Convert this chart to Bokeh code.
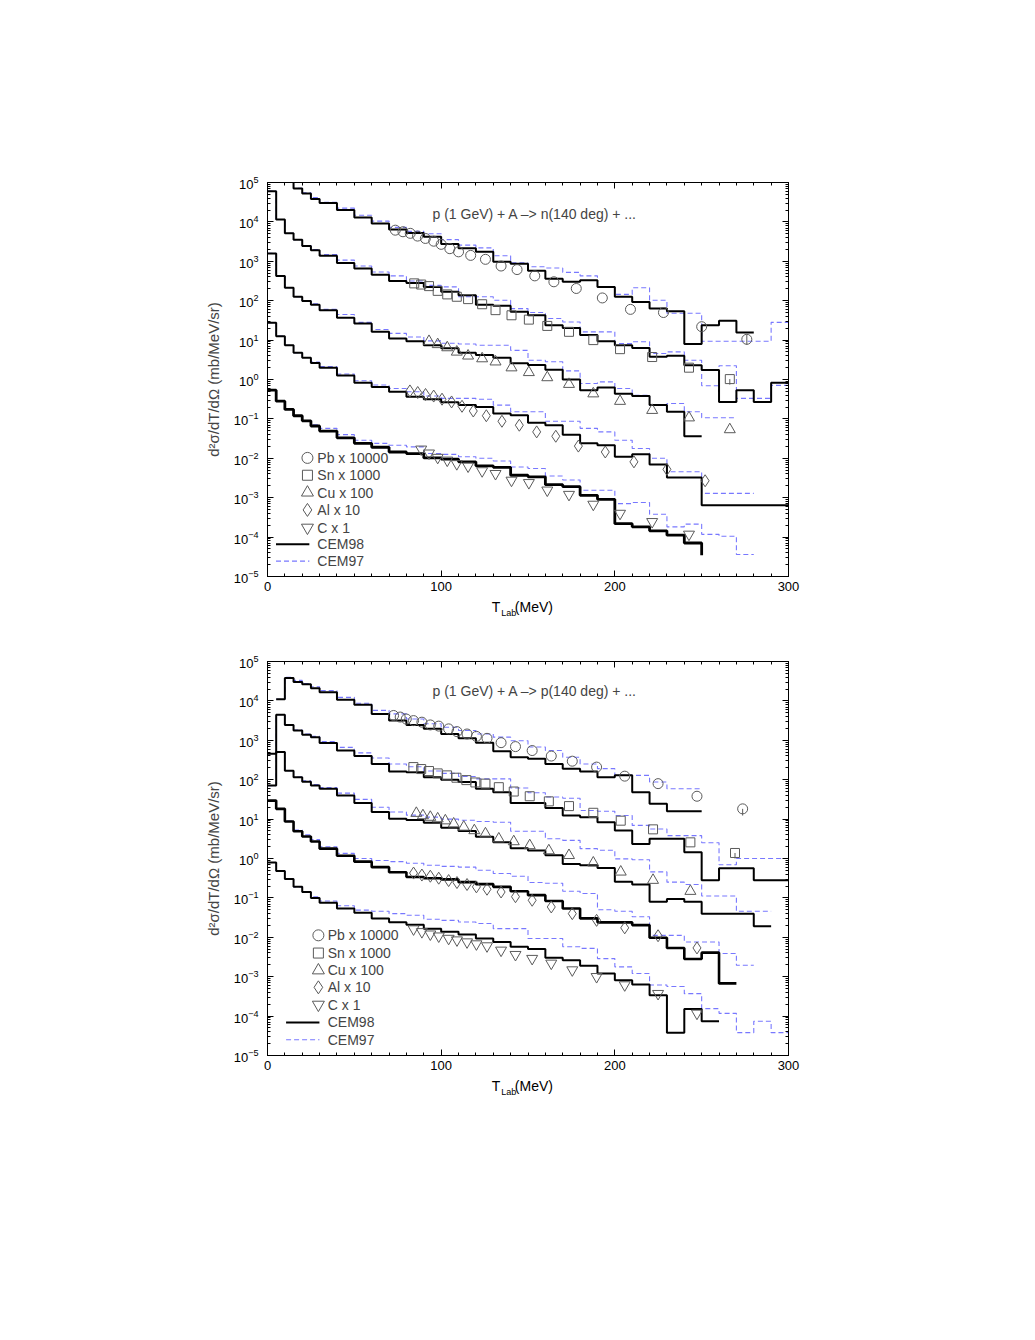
from bokeh.plotting import figure
from bokeh.models import (ColumnDataSource, FixedTicker, LinearAxis, LogAxis,
                          Range1d, Label, CustomJSTickFormatter)
from bokeh.layouts import column
from bokeh.embed import file_html
from bokeh.resources import INLINE

FONT = "Liberation Sans"

# ---------------- data ----------------
# histogram bin edges (MeV)
EDGES = [0, 5, 10, 15, 20, 25, 30] + list(range(40, 301, 10))
X_TICKS = [0, 100, 200, 300]
Y_TICKS = [1e-5, 1e-4, 1e-3, 1e-2, 1e-1, 1e0, 1e1, 1e2, 1e3, 1e4, 1e5]

# ---- top panel: p + A -> n(140 deg); values are log10 of d2sigma/dT/dOmega (scaled)
top_pb_cem98 = [5.5, 5.4, 5.2, 4.85, 4.72, 4.58, 4.48, 4.30, 4.11, 3.96, 3.81, 3.72, 3.62, 3.44, 3.33, 3.24,
                2.99, 2.94, 2.76, 2.56, 2.48, 2.52, 2.35, 2.10, 1.97, 1.80, 1.73, 0.90, 1.38, 1.49, 1.19]
top_pb_cem97 = [5.5, 5.4, 5.2, 4.85, 4.74, 4.62, 4.50, 4.35, 4.17, 4.02, 3.86, 3.76, 3.70, 3.55, 3.41, 3.34,
                3.14, 2.96, 2.86, 2.83, 2.72, 2.63, 2.35, 2.16, 2.33, 2.01, 1.68, 1.68, 0.97, 0.97, 0.97, 0.97, 1.45]
top_sn_cem98 = [4.78, 4.06, 3.71, 3.55, 3.39, 3.28, 3.14, 2.96, 2.82, 2.66, 2.50, 2.45, 2.35, 2.23, 2.14, 1.90,
                1.87, 1.72, 1.63, 1.38, 1.31, 1.13, 0.97, 0.87, 0.80, 0.58, 0.60, 0.36, 0.24, -0.57, -0.27, -0.57, -0.08]
top_sn_cem97 = [4.78, 4.06, 3.71, 3.55, 3.40, 3.30, 3.17, 3.03, 2.88, 2.73, 2.63, 2.50, 2.39, 2.35, 2.10, 2.10,
                2.01, 1.80, 1.70, 1.55, 1.46, 1.21, 1.21, 0.91, 0.96, 0.66, 0.70, 0.49, -0.16, 0.35, -0.48, -0.48, -0.15]
top_cu_cem98 = [3.20, 2.63, 2.33, 2.10, 1.99, 1.90, 1.76, 1.57, 1.42, 1.21, 1.04, 0.97, 0.87, 0.79, 0.68, 0.62,
                0.55, 0.41, 0.37, 0.25, 0.00, -0.27, -0.20, -0.36, -0.42, -0.65, -0.82, -1.44]
top_cu_cem97 = [3.20, 2.63, 2.33, 2.10, 2.00, 1.92, 1.78, 1.65, 1.45, 1.27, 1.17, 1.08, 0.98, 0.92, 0.90, 0.87,
                0.87, 0.74, 0.49, 0.45, 0.22, -0.10, -0.06, -0.23, -0.40, -0.65, -0.61, -0.82, -0.97, -0.97]
top_al_cem98 = [1.44, 1.10, 0.87, 0.68, 0.55, 0.42, 0.30, 0.10, -0.08, -0.19, -0.31, -0.44, -0.50, -0.58, -0.65, -0.70,
                -0.86, -0.91, -1.10, -1.16, -1.40, -1.62, -1.67, -1.96, -1.90, -2.16, -2.49, -2.49, -3.19, -3.19, -3.19, -3.19, -3.19]
top_al_cem97 = [1.44, 1.10, 0.87, 0.68, 0.56, 0.44, 0.33, 0.14, -0.03, -0.14, -0.23, -0.31, -0.42, -0.48, -0.48, -0.50,
                -0.65, -0.82, -0.82, -1.06, -1.06, -1.24, -1.33, -1.54, -1.75, -2.00, -2.34, -2.34, -2.89, -2.89, -2.89]
top_c_cem98 = [-0.27, -0.55, -0.76, -0.92, -1.05, -1.18, -1.31, -1.48, -1.62, -1.72, -1.84, -1.88, -1.99, -2.02, -2.09, -2.19,
               -2.23, -2.43, -2.47, -2.67, -2.72, -2.94, -3.04, -3.66, -3.74, -3.84, -3.95, -4.15]
top_c_cem98_tail = -4.46
top_c_cem97 = [-0.27, -0.55, -0.76, -0.92, -1.04, -1.15, -1.24, -1.40, -1.54, -1.62, -1.67, -1.71, -1.88, -1.90, -1.96, -2.00,
               -2.07, -2.22, -2.26, -2.45, -2.55, -2.81, -2.81, -3.15, -3.12, -3.42, -3.74, -3.67, -3.93, -3.98, -4.44]

top_pb_x = [73.6, 78, 82.2, 86.4, 90.9, 95.7, 100, 105, 110, 117, 125.5, 134.5, 143.7, 153.9, 164.9, 177.8, 192.8, 209, 228, 250, 276]
top_pb_y = [3.79, 3.75, 3.71, 3.64, 3.58, 3.51, 3.43, 3.32, 3.24, 3.15, 3.05, 2.88, 2.79, 2.63, 2.48, 2.31, 2.07, 1.78, 1.70, 1.34, 1.02]
top_sn_x = [84.5, 88.5, 93, 98, 103.5, 109, 115.5, 123.6, 131.3, 140.5, 150.5, 161.1, 173.6, 187.6, 203, 221.5, 242.7, 266.2]
top_sn_y = [2.44, 2.41, 2.37, 2.25, 2.16, 2.10, 2.04, 1.91, 1.76, 1.63, 1.52, 1.36, 1.21, 1.00, 0.77, 0.57, 0.30, 0.01]
top_cu_x = [93, 98, 103.5, 109, 115.5, 123.6, 131.3, 140.5, 150.5, 161.1, 173.6, 187.6, 203, 221.5, 242.7, 266.2]
top_cu_y = [0.97, 0.89, 0.81, 0.70, 0.60, 0.53, 0.45, 0.30, 0.18, 0.05, -0.12, -0.36, -0.55, -0.78, -0.97, -1.27]
top_al_x = [82, 86.5, 91, 95.7, 100.5, 106, 112, 118.5, 126, 135, 145, 155, 166, 179, 194.5, 211, 230, 252]
top_al_y = [-0.29, -0.33, -0.38, -0.42, -0.50, -0.57, -0.68, -0.80, -0.92, -1.06, -1.16, -1.33, -1.44, -1.69, -1.84, -2.09, -2.28, -2.57]
top_c_x = [88.5, 93, 98, 103.5, 109, 115.5, 123.6, 131.3, 140.5, 150.5, 161.1, 173.6, 187.6, 203, 221.5, 242.7]
top_c_y = [-1.77, -1.87, -1.98, -2.05, -2.14, -2.20, -2.32, -2.39, -2.56, -2.62, -2.81, -2.92, -3.17, -3.40, -3.61, -3.93]
top_err_x = [276, 266.2]
top_err_lo = [0.88, -0.13]
top_err_hi = [1.14, 0.01]

# ---- bottom panel: p + A -> p(140 deg)
bot_pb_cem98 = [None, 4.04, 4.58, 4.48, 4.42, 4.32, 4.22, 4.03, 3.90, 3.67, 3.50, 3.39, 3.29, 3.16, 3.05, 2.94,
                2.72, 2.57, 2.53, 2.40, 2.28, 2.21, 2.06, 2.11, 1.68, 1.39, 1.20, 1.20]
bot_pb_cem97 = [None, 4.04, 4.60, 4.52, 4.44, 4.36, 4.26, 4.09, 3.94, 3.76, 3.67, 3.54, 3.42, 3.33, 3.25, 3.16,
                3.08, 2.99, 2.83, 2.74, 2.57, 2.40, 2.28, 2.11, 2.11, 1.94, 1.77, 1.77]
bot_sn_cem98 = [2.66, 3.65, 3.39, 3.25, 3.14, 3.08, 2.93, 2.74, 2.60, 2.40, 2.21, 2.19, 2.06, 2.00, 1.94, 1.77,
                1.68, 1.41, 1.41, 1.28, 1.09, 1.05, 0.92, 0.71, 0.37, 0.50, 0.50, 0.16, -0.55, -0.25, -0.25, -0.55, -0.55]
bot_sn_cem97 = [2.66, 3.65, 3.39, 3.26, 3.16, 3.10, 2.97, 2.82, 2.68, 2.55, 2.40, 2.33, 2.22, 2.16, 2.08, 2.02,
                2.02, 1.79, 1.67, 1.56, 1.53, 1.22, 1.20, 1.09, 0.84, 0.75, 0.58, 0.58, 0.40, -0.16, 0.00, 0.00, 0.00]
bot_cu_cem98 = [1.85, 2.70, 2.23, 2.06, 1.95, 1.85, 1.77, 1.60, 1.41, 1.18, 1.01, 0.98, 0.91, 0.78, 0.70, 0.55,
                0.41, 0.26, 0.20, 0.08, -0.14, -0.17, -0.24, -0.59, -0.66, -1.10, -1.03, -1.10, -1.40, -1.40, -1.40, -1.72]
bot_cu_cem97 = [1.85, 2.70, 2.23, 2.07, 1.97, 1.88, 1.80, 1.66, 1.50, 1.30, 1.18, 1.10, 1.05, 1.00, 0.97, 0.94,
                0.92, 0.69, 0.69, 0.50, 0.46, 0.25, 0.21, -0.01, -0.03, -0.34, -0.60, -0.66, -0.95, -0.95, -1.34, -1.34]
bot_al_cem98 = [1.47, 1.26, 0.94, 0.69, 0.56, 0.43, 0.25, 0.07, -0.08, -0.22, -0.35, -0.47, -0.50, -0.53, -0.60, -0.65,
                -0.72, -0.83, -0.93, -1.08, -1.27, -1.52, -1.62, -1.62, -1.69, -2.01, -2.27, -2.55, -2.39, -3.17]
bot_al_cem97 = [1.47, 1.26, 0.95, 0.72, 0.60, 0.48, 0.30, 0.13, 0.00, -0.05, -0.08, -0.12, -0.17, -0.20, -0.22, -0.30,
                -0.38, -0.45, -0.61, -0.63, -0.83, -0.89, -1.30, -1.34, -1.48, -1.95, -1.95, -2.12, -2.12, -2.41, -2.71]
bot_c_cem98 = [-0.10, -0.32, -0.52, -0.72, -0.85, -1.00, -1.12, -1.27, -1.38, -1.52, -1.62, -1.68, -1.78, -1.86, -1.93, -2.03,
               -2.12, -2.24, -2.30, -2.52, -2.58, -2.72, -2.92, -3.09, -3.20, -3.47, -4.42, -3.82, -4.13]
bot_c_cem97 = [-0.10, -0.32, -0.52, -0.72, -0.85, -0.97, -1.08, -1.20, -1.31, -1.34, -1.40, -1.44, -1.54, -1.57, -1.61, -1.65,
               -1.78, -1.78, -2.03, -2.03, -2.24, -2.28, -2.54, -2.75, -2.92, -3.21, -3.25, -3.43, -3.81, -3.93, -4.42, -4.13, -4.42]

bot_pb_x = [72.6, 76.4, 79.9, 84.1, 88.9, 93.75, 98.6, 104.3, 109.1, 114.9, 120.3, 126.4, 134.5, 142.8, 152.4, 163.4,
            175.5, 189.5, 205.7, 224.9, 247.3, 273.6]
bot_pb_y = [3.63, 3.59, 3.54, 3.50, 3.46, 3.39, 3.36, 3.29, 3.22, 3.16, 3.10, 3.05, 2.94, 2.84, 2.74, 2.60,
            2.47, 2.32, 2.09, 1.90, 1.58, 1.26]
bot_sn_x = [84, 88.5, 93, 98, 103.4, 108.8, 114.5, 119.7, 125.5, 133.2, 141.8, 151, 162, 173.6, 187.6, 203.4, 222, 243.5, 269.2]
bot_sn_y = [2.32, 2.27, 2.22, 2.16, 2.11, 2.05, 1.99, 1.93, 1.90, 1.81, 1.70, 1.58, 1.45, 1.33, 1.16, 0.96, 0.74, 0.41, 0.14]
bot_cu_x = [85.7, 89.5, 93.75, 98, 102.4, 107.2, 113, 119.1, 125.5, 133.2, 141.8, 151, 162, 173.6, 187.6, 203.4, 222, 243.5]
bot_cu_y = [1.15, 1.09, 1.05, 1.01, 0.96, 0.88, 0.80, 0.71, 0.63, 0.50, 0.43, 0.33, 0.20, 0.08, -0.11, -0.34, -0.55, -0.83]
bot_al_x = [84.1, 88.9, 93.75, 98.6, 104.3, 109.1, 114.9, 120.3, 126.4, 134.5, 142.8, 152.4, 163.4, 175.5, 189.5, 205.7, 224.9, 247.3]
bot_al_y = [-0.37, -0.42, -0.45, -0.50, -0.56, -0.61, -0.66, -0.72, -0.78, -0.85, -0.97, -1.06, -1.23, -1.40, -1.57, -1.76, -1.96, -2.27]
bot_c_x = [84.1, 88.9, 93.75, 98.6, 104.3, 109.1, 114.9, 120.3, 126.4, 134.5, 142.8, 152.4, 163.4, 175.5, 189.5, 205.7, 224.9, 247.3]
bot_c_y = [-1.79, -1.86, -1.92, -1.97, -2.03, -2.07, -2.12, -2.17, -2.22, -2.33, -2.44, -2.54, -2.66, -2.83, -3.00, -3.21, -3.43, -3.93]
bot_err_x = [273.6, 269.2]
bot_err_lo = [1.09, 0.00]
bot_err_hi = [1.26, 0.14]

LEGEND_LABELS = ["Pb x 10000", "Sn x 1000", "Cu x 100", "Al x 10", "C x 1", "CEM98", "CEM97"]
MARKERS = ["circle", "square", "triangle", "diamond", "inverted_triangle"]
TITLES = ["p (1 GeV) + A \u2013> n(140 deg) + ...", "p (1 GeV) + A \u2013> p(140 deg) + ..."]
# x-axis title pieces: "T", subscript "Lab", "(MeV)"
XLABEL_MAIN = ["T", "(MeV)"]
XLABEL_SUB = "Lab"

# ---------------- styles ----------------
SOLID = dict(line_color="black", line_width=2)
DASH = dict(line_color="#7878ff", line_width=1.1, line_dash="5 3")
MK_COLOR = "#5a5a5a"
MK_SIZE = {"circle": 10, "square": 9, "triangle": 11, "diamond": 12, "inverted_triangle": 11}
TXT = "14px"
XL_POS_MAIN = [131.6, 153.4]   # label centres (in MeV units, layout only)
XL_POS_SUB = 138.9


def hist_xy(logs, tail=None):
    xs, ys = [], []
    for i, v in enumerate(logs):
        if v is None:
            continue
        xs += [EDGES[i], EDGES[i + 1]]
        ys += [10 ** v, 10 ** v]
    if tail is not None:
        xs.append(xs[-1])
        ys.append(10 ** tail)
    return xs, ys


def text_axis(ticks, labels, size, standoff):
    ax = LinearAxis(ticker=FixedTicker(ticks=ticks, minor_ticks=[]),
                    major_label_overrides={t: s for t, s in zip(ticks, labels)})
    ax.major_tick_line_color = None
    ax.minor_tick_line_color = None
    ax.axis_line_color = None
    ax.major_tick_in = 0
    ax.major_tick_out = 0
    ax.major_label_text_font = FONT
    ax.major_label_text_font_size = size
    ax.major_label_text_color = "black"
    ax.major_label_standoff = standoff
    return ax


def make_panel(height, top_border, title, title_y, hists, points, errs, leg):
    p = figure(width=1019, height=height, x_range=Range1d(0, 300), y_range=Range1d(1e-5, 1e5),
               y_axis_type="log", output_backend="svg", toolbar_location=None,
               min_border_left=267, min_border_right=231, min_border_top=top_border,
               min_border_bottom=46)
    p.background_fill_color = "white"
    p.border_fill_color = "white"
    p.outline_line_color = "black"
    p.outline_line_width = 1
    p.xgrid.visible = False
    p.ygrid.visible = False

    xt = FixedTicker(ticks=X_TICKS, minor_ticks=list(range(0, 301, 10)))
    yminor = [m * 10.0 ** e for e in range(-5, 5) for m in range(1, 10)]
    yt = FixedTicker(ticks=Y_TICKS, minor_ticks=yminor)

    def style(ax):
        ax.major_tick_in = 6
        ax.major_tick_out = 0
        ax.minor_tick_in = 3
        ax.minor_tick_out = 0
        ax.axis_line_color = "black"
        ax.major_label_text_font = FONT
        ax.major_label_text_font_size = "13px"
        ax.major_label_text_color = "black"

    xa = p.xaxis[0]
    xa.ticker = xt
    style(xa)
    xa.major_label_standoff = 5
    ya = p.yaxis[0]
    ya.ticker = yt
    style(ya)
    ya.major_label_standoff = 9
    ya.axis_label = "d\u00b2\u03c3/dT/d\u03a9 (mb/MeV/sr)"
    ya.axis_label_text_font = FONT
    ya.axis_label_text_font_size = "15px"
    ya.axis_label_text_font_style = "normal"
    ya.axis_label_standoff = 9

    top_ax = LinearAxis(ticker=xt, formatter=CustomJSTickFormatter(code="return ''"))
    style(top_ax)
    p.add_layout(top_ax, "above")
    right_ax = LogAxis(ticker=yt, formatter=CustomJSTickFormatter(code="return ''"))
    style(right_ax)
    p.add_layout(right_ax, "right")

    # x-axis title as text-only axes (T ... (MeV), then subscript "Lab" pulled up)
    p.add_layout(text_axis(XL_POS_MAIN, XLABEL_MAIN, TXT, 5), "below")
    p.add_layout(text_axis([XL_POS_SUB], [XLABEL_SUB], "9px", -10), "below")

    # histograms
    for logs, tail, kind, lw in hists:
        xs, ys = hist_xy(logs, tail)
        if kind == "dash":
            p.line(xs, ys, **DASH)
        else:
            st = dict(SOLID)
            st["line_width"] = lw
            p.line(xs, ys, **st)

    # data points
    for (xs, ys), mk in zip(points, MARKERS):
        src = ColumnDataSource(dict(x=xs, y=[10 ** v for v in ys]))
        p.scatter("x", "y", source=src, marker=mk, size=MK_SIZE[mk], fill_color=None,
                  line_color=MK_COLOR, line_width=1)
    ex, elo, ehi = errs
    p.segment(ex, [10 ** v for v in elo], ex, [10 ** v for v in ehi], line_color=MK_COLOR, line_width=1)

    # legend (drawn manually)
    mx, tx, lx0, lx1, ltx, rows = leg
    for i, mk in enumerate(MARKERS):
        p.scatter([mx], [10 ** rows[i]], marker=mk, size=MK_SIZE[mk] + 1, fill_color=None,
                  line_color=MK_COLOR, line_width=1)
        p.add_layout(Label(x=tx, y=10 ** rows[i], text=LEGEND_LABELS[i], text_font=FONT,
                           text_font_size=TXT, text_baseline="middle", text_align="left"))
    p.line([lx0, lx1], [10 ** rows[5]] * 2, **SOLID)
    p.line([lx0, lx1], [10 ** rows[6]] * 2, **DASH)
    for i in (5, 6):
        p.add_layout(Label(x=ltx, y=10 ** rows[i], text=LEGEND_LABELS[i], text_font=FONT,
                           text_font_size=TXT, text_baseline="middle", text_align="left"))

    # title inside plot
    p.add_layout(Label(x=95, y=10 ** title_y, text=title, text_font=FONT, text_font_size=TXT,
                       text_baseline="middle", text_align="left"))
    return p


top_hists = [
    (top_pb_cem97, None, "dash", 1), (top_sn_cem97, None, "dash", 1), (top_cu_cem97, None, "dash", 1),
    (top_al_cem97, None, "dash", 1), (top_c_cem97, None, "dash", 1),
    (top_pb_cem98, None, "solid", 2), (top_sn_cem98, None, "solid", 2), (top_cu_cem98, None, "solid", 2),
    (top_al_cem98, None, "solid", 2), (top_c_cem98, top_c_cem98_tail, "solid", 2.8),
]
top_points = [(top_pb_x, top_pb_y), (top_sn_x, top_sn_y), (top_cu_x, top_cu_y),
              (top_al_x, top_al_y), (top_c_x, top_c_y)]
bot_hists = [
    (bot_pb_cem97, None, "dash", 1), (bot_sn_cem97, None, "dash", 1), (bot_cu_cem97, None, "dash", 1),
    (bot_al_cem97, None, "dash", 1), (bot_c_cem97, None, "dash", 1),
    (bot_pb_cem98, None, "solid", 2), (bot_sn_cem98, None, "solid", 2), (bot_cu_cem98, None, "solid", 2),
    (bot_al_cem98, None, "solid", 2.6), (bot_c_cem98, None, "solid", 2),
]
bot_points = [(bot_pb_x, bot_pb_y), (bot_sn_x, bot_sn_y), (bot_cu_x, bot_cu_y),
              (bot_al_x, bot_al_y), (bot_c_x, bot_c_y)]

top_leg = (23.0, 28.7, 4.9, 24.1, 28.7, [-1.99, -2.43, -2.87, -3.31, -3.76, -4.18, -4.61])
bot_leg = (29.3, 34.7, 10.7, 29.9, 34.7, [-1.95, -2.40, -2.84, -3.27, -3.71, -4.16, -4.60])

p1 = make_panel(622, 182, TITLES[0], 4.21, top_hists, top_points, (top_err_x, top_err_lo, top_err_hi), top_leg)
p2 = make_panel(479, 39, TITLES[1], 4.256, bot_hists, bot_points, (bot_err_x, bot_err_lo, bot_err_hi), bot_leg)

layout = column(p1, p2, spacing=0)
open("out.html", "w").write(file_html(layout, INLINE))
